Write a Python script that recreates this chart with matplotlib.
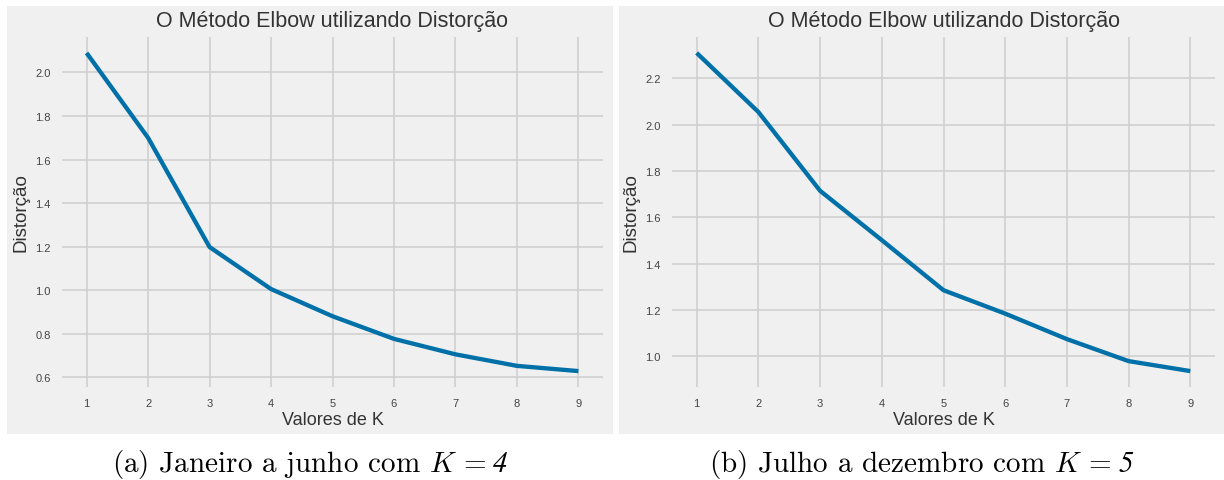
import matplotlib
matplotlib.use("Agg")
import matplotlib.pyplot as plt
from matplotlib.patches import Rectangle

k_values = [1, 2, 3, 4, 5, 6, 7, 8, 9]
dist_jan_jun = [2.09, 1.70, 1.198, 1.005, 0.88, 0.776, 0.705, 0.652, 0.628]
dist_jul_dez = [2.31, 2.055, 1.715, 1.502, 1.286, 1.185, 1.075, 0.98, 0.937]

caption_text = ["(a) Janeiro a junho com $K\\,=$", "(b) Julho a dezembro com $K\\,=$"]
caption_k = ["4", "5"]

plt.rcParams["font.family"] = ["Liberation Sans", "DejaVu Sans"]
plt.rcParams["mathtext.fontset"] = "cm"

W, H = 1224, 481
fig = plt.figure(figsize=(W / 100, H / 100), dpi=100, facecolor="white")

bg = "#f0f0f0"
grid = "#d0d0d0"
line_color = "#0070a8"


def px(x0, y0, x1, y1):
    # pixel box (top-left origin) -> figure fraction rect
    return [x0 / W, 1 - y1 / H, (x1 - x0) / W, (y1 - y0) / H]


panels = [(7, 7, 613, 435), (619, 7, 1224, 435)]
axes_boxes = [(62, 38, 603, 388), (672, 38, 1215, 388)]
series = [dist_jan_jun, dist_jul_dez]

renderer = fig.canvas.get_renderer()

for pbox, abox, y, cap, kk in zip(panels, axes_boxes, series, caption_text, caption_k):
    r = px(*pbox)
    fig.patches.append(Rectangle((r[0], r[1]), r[2], r[3], transform=fig.transFigure,
                                 facecolor=bg, edgecolor="none", zorder=-5))
    ax = fig.add_axes(px(*abox), facecolor=bg)
    ax.plot(k_values, y, color=line_color, lw=3.1, solid_capstyle="butt")
    ax.set_xticks(k_values)
    ax.grid(True, color=grid, lw=1.2)
    ax.set_axisbelow(True)
    for s in ax.spines.values():
        s.set_visible(False)
    ax.tick_params(length=0, labelsize=8, labelcolor="#444444", pad=8)
    ax.set_title("O Método Elbow utilizando Distorção", fontsize=15.5, color="#333333", pad=8)
    ax.set_xlabel("Valores de K", fontsize=13, color="#333333", labelpad=2)
    ax.set_ylabel("Distorção", fontsize=13.5, color="#333333", labelpad=4)

    # caption: serif text, digit in italic appended after it
    cx = (pbox[0] + pbox[2]) / 2
    gap = 7
    t = fig.text(0, 1 - 465 / H, cap, ha="left", va="center", fontsize=21, family="cmr10")
    d = fig.text(0, 1 - 465 / H, kk, ha="left", va="center", fontsize=21,
                 family="STIXGeneral", style="italic")
    wt = t.get_window_extent(renderer).width
    wd = d.get_window_extent(renderer).width
    x0 = cx - (wt + gap + wd) / 2
    t.set_x(x0 / W)
    d.set_x((x0 + wt + gap) / W)

fig.savefig("out.png", dpi=100, facecolor="white")
